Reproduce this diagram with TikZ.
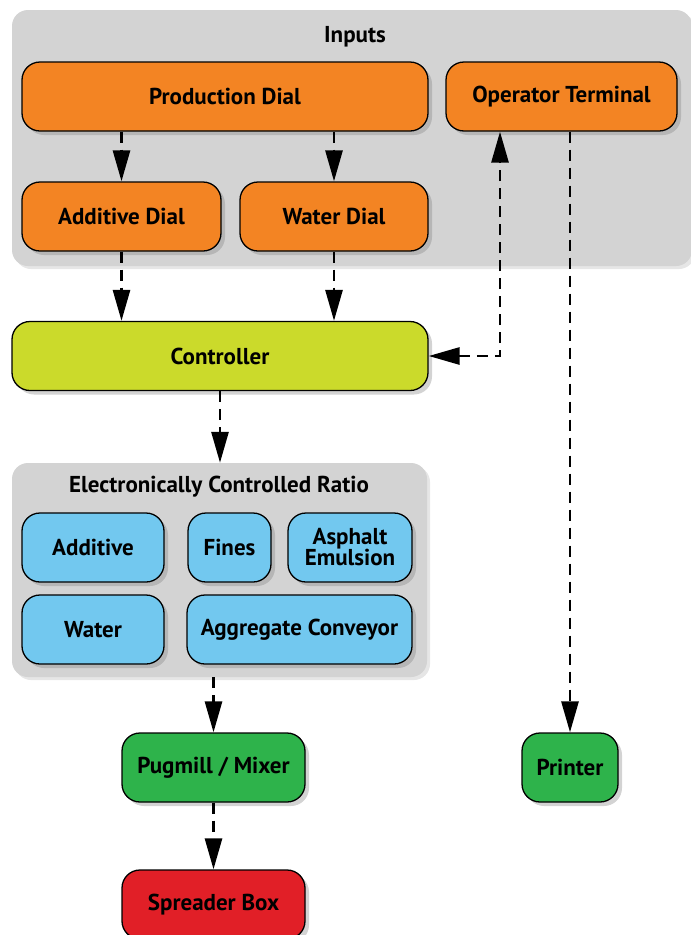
\documentclass[tikz,border=0pt]{standalone}
\usepackage{fontspec}
\setmainfont{PT Sans}
\usetikzlibrary{arrows.meta,shadows}
\definecolor{dialorange}{HTML}{F38423}
\definecolor{ctrllime}{HTML}{CBDA2B}
\definecolor{ratioblue}{HTML}{72C8EF}
\definecolor{outgreen}{HTML}{2EB34B}
\definecolor{boxred}{HTML}{E11F27}
\definecolor{groupgray}{HTML}{D3D3D3}
\begin{document}
\begin{tikzpicture}
  [x=1pt,y=-1pt,
   every node/.style={font=\fontsize{23}{21}\selectfont\bfseries, align=center, inner sep=0pt},
   box/.style={draw, line width=1.3pt, rounded corners=18pt, minimum height=69pt,
     drop shadow={shadow xshift=4pt, shadow yshift=-4pt, opacity=.35}},
   orangebox/.style={box, fill=dialorange},
   limebox/.style={box, fill=ctrllime},
   bluebox/.style={box, fill=ratioblue},
   greenbox/.style={box, fill=outgreen},
   redbox/.style={box, fill=boxred},
   group/.style={fill=groupgray, rounded corners=16pt,
     drop shadow={shadow xshift=3pt, shadow yshift=-3pt, opacity=.2}},
   flow/.style={line width=2.8pt, dash pattern=on 11pt off 7pt,
     -{Triangle[length=31pt,width=17pt]}}]
  \useasboundingbox (0,0) rectangle (691,935);

  % groups
  \node[group, minimum width=680pt, minimum height=256pt] (inputs) at (352,138) {};
  \node (inputsT) at (355,37) {Inputs};
  \node[group, minimum width=415pt, minimum height=214pt] (ratio) at (219.5,570) {};
  \node (ratioT) at (219,487) {Electronically Controlled Ratio};

  % boxes
  \node[orangebox, minimum width=406pt] (prod) at (225,96.5) {Production Dial};
  \node[orangebox, minimum width=231pt] (term) at (561.5,96.5) {Operator Terminal};
  \node[orangebox, minimum width=199pt] (adial) at (121.5,216.5) {Additive Dial};
  \node[orangebox, minimum width=188pt] (wdial) at (334,216.5) {Water Dial};
  \node[limebox, minimum width=416pt] (ctrl) at (220,356) {Controller};
  \node[bluebox, minimum width=142pt] (additive) at (93,547.5) {Additive};
  \node[bluebox, minimum width=83pt] (fines) at (229.5,547.5) {Fines};
  \node[bluebox, minimum width=124pt] (asphalt) at (350,547.5) {Asphalt\\Emulsion};
  \node[bluebox, minimum width=142pt] (water) at (93,629.5) {Water};
  \node[bluebox, minimum width=225pt] (aggr) at (299.5,629.5) {Aggregate Conveyor};
  \node[greenbox, minimum width=183pt] (mixer) at (213.5,767.5) {Pugmill / Mixer};
  \node[greenbox, minimum width=96pt] (printer) at (570,767.5) {Printer};
  \node[redbox, minimum width=183pt] (spread) at (213.5,904.5) {Spreader Box};

  % connectors
  \draw[flow] (prod.south -| adial.north) -- (adial.north);
  \draw[flow] (prod.south -| wdial.north) -- (wdial.north);
  \draw[flow] (adial.south) -- (adial.south |- ctrl.north);
  \draw[flow] (wdial.south) -- (wdial.south |- ctrl.north);
  \draw[flow] (ctrl.south) -- (ctrl.south |- ratio.north);
  \draw[flow, {Triangle[length=31pt,width=17pt]}-{Triangle[length=31pt,width=17pt]}]
    (ctrl.east) -| ([xshift=-61.5pt]term.south);
  \draw[flow] (term.south -| printer.north) -- (printer.north);
  \draw[flow] (ratio.south -| mixer.north) -- (mixer.north);
  \draw[flow] (mixer.south) -- (spread.north);
\end{tikzpicture}
\end{document}
